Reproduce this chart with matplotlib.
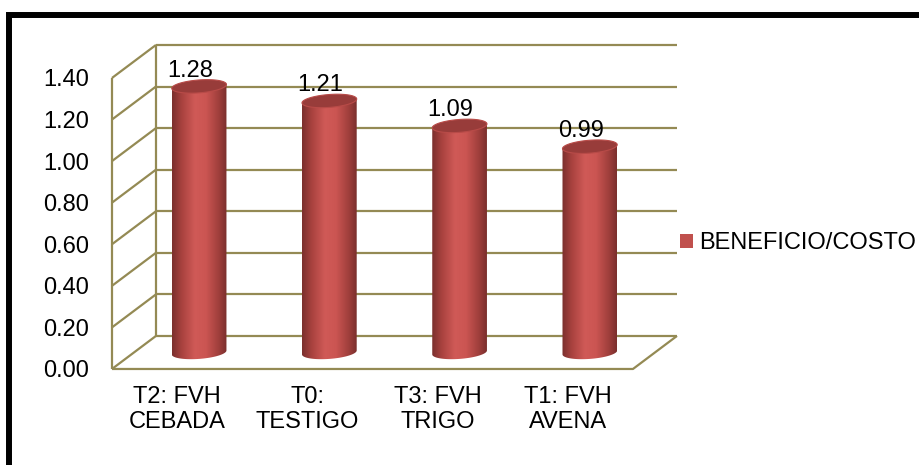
import numpy as np
import matplotlib.pyplot as plt
from matplotlib.patches import PathPatch, Patch, Rectangle, Polygon
from matplotlib.path import Path
from matplotlib.colors import LinearSegmentedColormap

plt.rcParams["font.family"] = ["Liberation Sans", "DejaVu Sans"]

# ---- data ----
categories = ["T2: FVH\nCEBADA", "T0:\nTESTIGO", "T3: FVH\nTRIGO", "T1: FVH\nAVENA"]
beneficio_costo = [1.28, 1.21, 1.09, 0.99]
y_ticks = [0.00, 0.20, 0.40, 0.60, 0.80, 1.00, 1.20, 1.40]
series_name = "BENEFICIO/COSTO"

# ---- style ----
FS = 17
GRID = "#948A54"
BAR = "#C0504D"
CAP = "#983C3A"
DX, DY = 0.338, 0.159      # depth of the 3d box (data units)
BAR_W = 0.42
RY = 0.031                 # half height of cylinder caps
TILT = 0.045               # slight perspective slant of the caps

body_cmap = LinearSegmentedColormap.from_list(
    "cyl", [(0.0, "#7A2F2D"), (0.18, "#A9423F"), (0.42, "#D05A57"),
            (0.62, "#CB5552"), (0.86, "#9E3E3B"), (1.0, "#7A2F2D")])

fig = plt.figure(figsize=(9.2, 4.65), dpi=100)
ax = fig.add_axes([0.1217, 0.2065, 0.5663, 0.6258])
ax.patch.set_visible(False)
for s in ax.spines.values():
    s.set_visible(False)

n = len(categories)
x0, x1 = -0.5, n - 0.5
ymax = y_ticks[-1]
gkw = dict(color=GRID, lw=1.6, clip_on=False, zorder=1, solid_capstyle="butt")

# back wall, side wall and floor
for v in y_ticks:
    ax.plot([x0 + DX, x1 + DX], [v + DY, v + DY], **gkw)
    ax.plot([x0, x0 + DX], [v, v + DY], **gkw)
ax.plot([x0 + DX, x0 + DX], [DY, ymax + DY], **gkw)
ax.plot([x0, x0], [0, ymax], **gkw)
ax.plot([x0, x1, x1 + DX], [0, 0, DY], **gkw)


def cylinder(xc, h, base):
    a = BAR_W / 2
    top = base + h
    t = np.linspace(np.pi, 2 * np.pi, 80)
    rim_x = xc + a * np.cos(t)
    rim_y = base + RY * np.sin(t) + TILT * (rim_x - xc)
    verts = [(xc - a, top - TILT * a)] + list(zip(rim_x, rim_y)) + \
            [(xc + a, top + TILT * a), (xc - a, top - TILT * a)]
    codes = [Path.MOVETO] + [Path.LINETO] * (len(verts) - 2) + [Path.CLOSEPOLY]
    body = PathPatch(Path(verts, codes), facecolor="none", edgecolor="none",
                     clip_on=False)
    ax.add_patch(body)
    grad = np.linspace(0, 1, 256).reshape(1, -1)
    im = ax.imshow(grad, cmap=body_cmap, aspect="auto", zorder=2,
                   extent=(xc - a, xc + a, base - 2 * RY - a * TILT, top + 2 * RY),
                   interpolation="bicubic")
    im.set_clip_path(body)

    tt = np.linspace(0, 2 * np.pi, 120)
    cx = xc + a * np.cos(tt)
    cy = top + RY * np.sin(tt) + TILT * (cx - xc)
    ax.add_patch(Polygon(np.column_stack([cx, cy]), closed=True, facecolor=CAP,
                         edgecolor="#B84B48", lw=0.8, zorder=3, clip_on=False))


for i, v in enumerate(beneficio_costo):
    xc = i + DX / 2
    cylinder(xc, v, DY / 2)
    ax.annotate(f"{v:.2f}", xy=(xc, v + DY / 2), xytext=(-6.5, 7),
                textcoords="offset points", ha="center", va="baseline",
                fontsize=FS, zorder=4)

ax.set_xlim(x0, x1)
ax.set_ylim(0, ymax)
ax.set_yticks(y_ticks, labels=[f"{v:.2f}" for v in y_ticks])
ax.set_xticks(range(n), labels=categories)
ax.tick_params(axis="y", length=0, pad=16.5, labelsize=FS)
ax.tick_params(axis="x", length=0, pad=12, labelsize=FS)

fig.legend(handles=[Patch(facecolor=BAR, label=series_name)],
           loc="center left", bbox_to_anchor=(0.739, 0.477), frameon=False,
           handlelength=0.55, handleheight=0.55, handletextpad=0.25,
           borderpad=0, borderaxespad=0, fontsize=FS)

# heavy outer frame
fig.add_artist(Rectangle((0.0103, -0.1), 1.2, 1.0677, transform=fig.transFigure,
                         fill=False, edgecolor="black", lw=4.3))

fig.savefig("out.png", dpi=100)
